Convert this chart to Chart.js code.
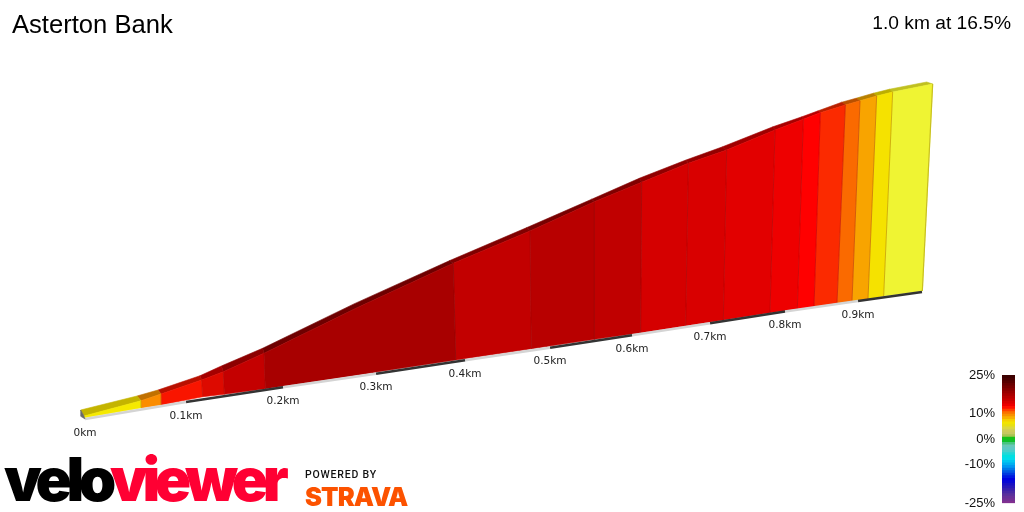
<!DOCTYPE html>
<html>
<head>
<meta charset="utf-8">
<title>Asterton Bank</title>
<script src="https://cdn.jsdelivr.net/npm/chart.js@4"></script>
<style>
  html, body { margin: 0; padding: 0; background: #fff; }
  #wrap { position: relative; width: 1024px; height: 512px; overflow: hidden; font-family: "Liberation Sans", sans-serif; }
  #profile { position: absolute; left: 0; top: 0; }
  #scale { position: absolute; left: 940px; top: 360px; }
  .txt { position: absolute; white-space: nowrap; line-height: 1; }
  #name { left: 12px; top: 12px; font-size: 25.6px; color: #000; }
  #summary { right: 13px; top: 13px; font-size: 19.2px; color: #000; }
  #velo { left: 4px; top: 443px; font: 900 60px Inter, sans-serif; letter-spacing: -5.4px; }
  #velo span { color: #ff0033; }
  #powered { left: 305px; top: 468px; font: 500 10.5px Roboto, sans-serif; letter-spacing: 0.8px; color: #111; }
  #strava { left: 305px; top: 481px; font: 900 25.5px Inter, sans-serif; letter-spacing: -0.9px; color: #fc5200; }
</style>
</head>
<body>
<div id="wrap">
  <canvas id="profile" width="1024" height="512"></canvas>
  <canvas id="scale" width="84" height="158"></canvas>
  <div class="txt" id="name">Asterton Bank</div>
  <div class="txt" id="summary">1.0 km at 16.5%</div>
  <div class="txt" id="velo">velo<span>viewer</span></div>
  <div class="txt" id="powered">POWERED BY</div>
  <div class="txt" id="strava">STRAVA</div>
</div>
<script>
// section ends along the road, in metres as seen in the tilted view
const baseDist  = [2.4, 70.4, 94.4, 143.6, 169.6, 218.8, 332.4, 447.2, 538, 614, 669.2, 723.2, 768.4, 824.4, 857.2, 877.2, 904.8, 922.8, 942, 960.8, 1007.2];
const baseElev  = [0.4, 8.2, 10.6, 17, 19, 23.4, 34.9, 46.4, 55.4, 63, 68.2, 73.8, 78.4, 84.2, 87.2, 89, 91.8, 93.4, 95, 97.6, 101.6];
const topDist   = [1.2, 69.6, 93.6, 142.4, 168.4, 217.2, 328.8, 444.4, 536.4, 613.6, 670.4, 726.4, 772.4, 830.4, 864.4, 884.8, 914.8, 932.4, 952.4, 971.6, 1019.6];
const topElev   = [1.6, 13.8, 19.2, 30.4, 37, 51.8, 88.2, 123.8, 149.6, 173, 188.6, 203.8, 214.4, 230.4, 239, 244.2, 250.4, 253.8, 257.6, 260.8, 267.2];
const ridgeDist = [-2.8, 64.8, 90, 140.4, 166, 215.6, 325.2, 439.6, 532.8, 610.4, 667.6, 723.6, 766.8, 828, 862.8, 882.4, 910.4, 927.6, 948.4, 967.6, 1012.4];
const ridgeElev = [6.4, 17.6, 22.4, 33.8, 41.6, 55.8, 91.3, 125.8, 152.4, 175, 191.8, 206.4, 216.8, 233, 241, 245.8, 252.6, 255.8, 259.8, 263, 268.8];

const faceColors  = ["#f5e900", "#fb8c00", "#f91500", "#dd0a00", "#c40000", "#a80000", "#a80000", "#c20000", "#b80000", "#c00000", "#d50000", "#d90000", "#e20000", "#ee0000", "#ff0000", "#fb2a00", "#fa6a00", "#f8a400", "#f5e200", "#eff433"];
const ridgeColors = ["#c4b400", "#c07000", "#b81000", "#a50000", "#8c0000", "#6e0000", "#6e0000", "#800000", "#780000", "#800000", "#900000", "#940000", "#a00000", "#a80000", "#b80000", "#b82000", "#b85000", "#b88000", "#bcae00", "#c0c020"];

// distance markers along the bottom edge
const tickLabels = ["0km", "0.1km", "0.2km", "0.3km", "0.4km", "0.5km", "0.6km", "0.7km", "0.8km", "0.9km"];
const tickDist   = [2.4, 123.6, 240, 351.6, 458.4, 560.4, 658.8, 752.4, 842.4, 930, 1006.8];
const tickElev   = [-0.8, 12.8, 24.6, 35.4, 46.2, 56.2, 66.2, 75.8, 85.2, 93.6, 100.8];

// gradient key
const scaleTicks = [25, 10, 0, -10, -25];
const scaleColors = ["#3c0000", "#480000", "#580000", "#680000", "#780000", "#880000", "#980000", "#a80000", "#b80000", "#c80000", "#d80000", "#ec0000", "#ff1000", "#ff4000", "#fb7000", "#f89000", "#f8b000", "#f6d000", "#f2e400", "#e8e010", "#dcd840", "#d0cc58", "#c8c860", "#a8c450", "#18c018", "#10c028", "#48c480", "#68c8b8", "#60c8c4", "#48d0cc", "#20d8d8", "#00e0e0", "#00dcec", "#00c8f0", "#00b0f0", "#0098f0", "#0078e8", "#0058e4", "#0038e0", "#0018e0", "#0000e0", "#0808d4", "#1810c4", "#2818b8", "#3820ac", "#4828a4", "#58309c", "#683098", "#743094", "#803090"];

// neighbouring pieces of one colour make one polygon
const runs = [];
faceColors.forEach((color, i) => {
  const run = runs[runs.length - 1];
  if (run && run.color === color) run.end = i + 1;
  else runs.push({ color, ridge: ridgeColors[i], start: i, end: i + 1 });
});

function outline(xa, ya, xb, yb, start, end) {
  const pts = [];
  for (let i = start; i <= end; i++) pts.push({ x: xa[i], y: ya[i] });
  for (let i = end; i >= start; i--) pts.push({ x: xb[i], y: yb[i] });
  pts.push(pts[0]);
  return pts;
}

const faces = runs.map(r => ({
  data: outline(baseDist, baseElev, topDist, topElev, r.start, r.end),
  backgroundColor: r.color, borderColor: r.color, borderWidth: 0.6, fill: "shape", order: 3
}));
const ridges = runs.map(r => ({
  data: outline(topDist, topElev, ridgeDist, ridgeElev, r.start, r.end),
  backgroundColor: r.ridge, borderColor: r.ridge, borderWidth: 0.6, fill: "shape", order: 4
}));
// thin darker lines where two sections meet
const seams = runs.slice(0, -1).map(r => ({
  data: [{ x: baseDist[r.end], y: baseElev[r.end] }, { x: topDist[r.end], y: topElev[r.end] }],
  borderColor: "rgba(90,0,0,0.3)", borderWidth: 0.8, fill: false, order: 2
}));
const strip = tickDist.slice(0, -1).map((d, i) => ({
  data: [{ x: d, y: tickElev[i] }, { x: tickDist[i + 1], y: tickElev[i + 1] }],
  borderColor: i % 2 ? "#333333" : "#d4d4d4", borderWidth: 2.4, fill: false, order: 1
}));
const last = baseDist.length - 1;
const caps = [
  {
    data: [{ x: ridgeDist[0], y: ridgeElev[0] }, { x: topDist[0], y: topElev[0] }, { x: tickDist[0], y: tickElev[0] }, { x: ridgeDist[0], y: ridgeElev[0] - 5 }, { x: ridgeDist[0], y: ridgeElev[0] }],
    backgroundColor: "#6a6a6a", borderColor: "#6a6a6a", borderWidth: 0.6, fill: "shape", order: 0
  },
  {
    data: [{ x: baseDist[last], y: baseElev[last] }, { x: topDist[last], y: topElev[last] }],
    borderColor: "#c8c020", borderWidth: 1.2, fill: false, order: 0
  }
];

const tickLabelPlugin = {
  id: "tickLabelPlugin",
  afterDatasetsDraw(chart) {
    const { ctx, scales } = chart;
    ctx.save();
    ctx.font = "10.5px 'DejaVu Sans'";
    ctx.fillStyle = "#222";
    ctx.textAlign = "center";
    ctx.textBaseline = "middle";
    tickLabels.forEach((label, i) => {
      ctx.fillText(label, scales.x.getPixelForValue(tickDist[i]), scales.y.getPixelForValue(tickElev[i]) + 14);
    });
    ctx.restore();
  }
};

new Chart(document.getElementById("profile"), {
  type: "scatter",
  data: { datasets: [...faces, ...ridges, ...seams, ...strip, ...caps] },
  options: {
    responsive: false,
    animation: false,
    showLine: true,
    layout: { padding: 0 },
    elements: { point: { radius: 0 }, line: { tension: 0 } },
    plugins: { legend: { display: false }, tooltip: { enabled: false } },
    scales: {
      x: { type: "linear", min: -99.6, max: 1129.2, display: false },
      y: { type: "linear", min: -75.2, max: 334.4, display: false }
    }
  },
  plugins: [tickLabelPlugin]
});

// one band per percent, each runs one unit up under its neighbour so no gaps show
new Chart(document.getElementById("scale"), {
  type: "bar",
  data: {
    labels: ["key"],
    datasets: scaleColors.map((color, i) => ({
      data: [[24 - i, 26 - i]],
      backgroundColor: color,
      borderWidth: 0
    }))
  },
  options: {
    responsive: false,
    animation: false,
    grouped: false,
    barPercentage: 1,
    categoryPercentage: 1,
    layout: { padding: { top: 15, bottom: 3, right: 9, left: 0 } },
    plugins: { legend: { display: false }, tooltip: { enabled: false } },
    scales: {
      x: { display: false },
      y: {
        min: -25,
        max: 25,
        grid: { display: false, drawTicks: false },
        border: { display: false },
        afterBuildTicks(axis) { axis.ticks = scaleTicks.map(value => ({ value })); },
        afterFit(axis) { axis.width = 62; },
        ticks: {
          autoSkip: false,
          padding: 7,
          color: "#111",
          font: { family: "'Liberation Sans'", size: 13 },
          callback: value => value + "%"
        }
      }
    }
  }
});
</script>
</body>
</html>
